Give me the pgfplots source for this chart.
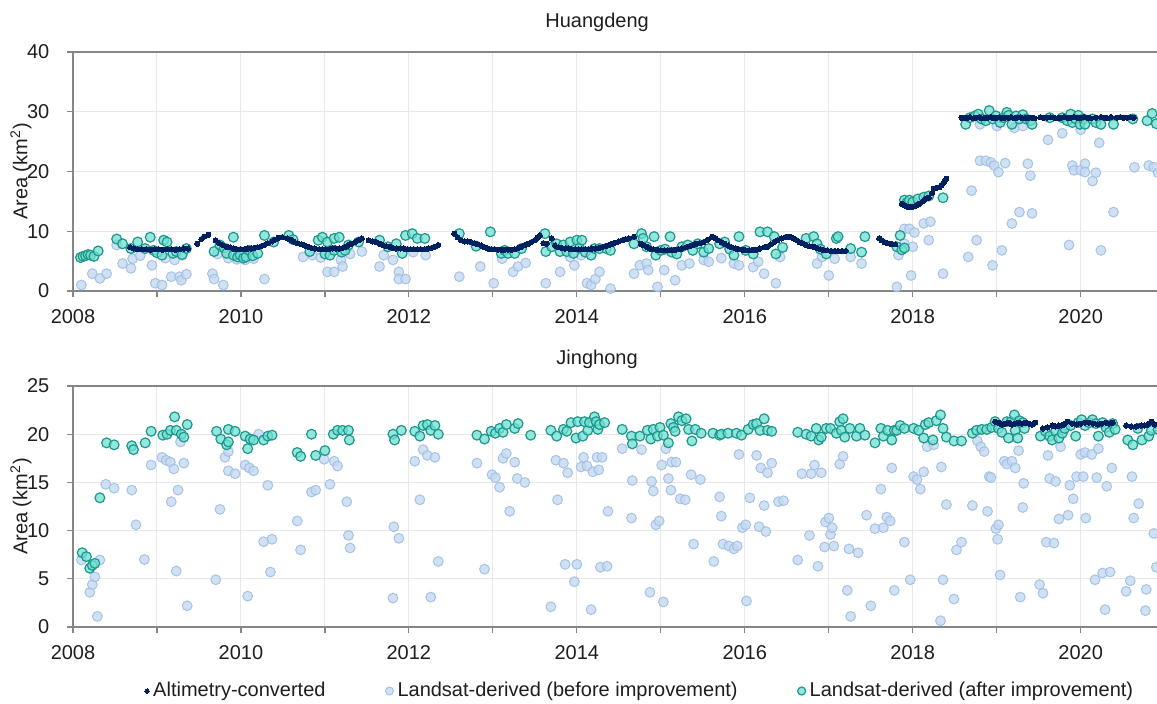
\documentclass[border=0pt]{standalone}
\usepackage{fontspec}
\setmainfont{Liberation Sans}
\usepackage{pgfplots}
\pgfplotsset{compat=1.18}
\definecolor{navy}{RGB}{0,32,96}
\definecolor{lbfill}{RGB}{197,217,241}
\definecolor{lbdraw}{RGB}{160,190,228}
\definecolor{tfill}{RGB}{110,224,210}
\definecolor{tdraw}{RGB}{30,150,140}
\definecolor{axgray}{RGB}{134,134,134}
\definecolor{gridgray}{RGB}{232,232,232}
\definecolor{txt}{RGB}{30,30,30}
\pgfplotsset{
  panel/.style={
    anchor=south west, scale only axis, width=542.5pt,
    xmin=2008, xmax=2020.92,
    xtick={2008,2009,...,2020},
    xticklabels={2008,,2010,,2012,,2014,,2016,,2018,,2020},
    axis x line*=bottom, axis y line*=left,
    axis line style={-, draw=axgray, line width=0.7pt},
    tick align=outside, major tick length=2.8pt,
    tick style={draw=axgray, line width=0.6pt},
    grid=major, major grid style={draw=gridgray, line width=0.5pt},
    /pgf/number format/assume math mode=true,
    /pgf/number format/1000 sep={},
    ticklabel style={font=\fontsize{10}{12}\selectfont, text=txt},
    yticklabel style={xshift=-5.5pt},
    xticklabel style={yshift=-3pt},
    ylabel={Area (km\textsuperscript{2})},
    ylabel style={at={(axis description cs:-0.0479,0.5)}, anchor=center, font=\fontsize{10}{12}\selectfont, text=txt},
    title style={anchor=base, font=\fontsize{10}{12}\selectfont, text=txt},
    after end axis/.code={\draw[axgray, line width=0.7pt] (rel axis cs:0,1) -- (rel axis cs:1,1);},
  },
  before/.style={only marks, mark=*, mark size=2.45pt, mark options={fill=lbfill, draw=lbdraw, line width=0.5pt, fill opacity=0.8, draw opacity=0.9}},
  after/.style={only marks, mark=*, mark size=2.45pt, mark options={fill=tfill, draw=tdraw, line width=0.6pt, fill opacity=0.75}},
  alti/.style={only marks, mark=*, mark size=1.3pt, mark options={fill=navy, draw=navy, line width=0pt}},
}
\begin{document}
\begin{tikzpicture}
\useasboundingbox (0,0) rectangle (578.5pt,351.5pt);
% ---------------- Huangdeng ----------------
\begin{axis}[panel, at={(36.5pt,206pt)}, height=119.5pt,
  ymin=0, ymax=40, ytick={0,10,20,30,40},
  title={Huangdeng}, title style={at={(axis description cs:0.483,1)}, yshift=6.5pt}]
\addplot[before] coordinates {
(2008.10,1.0)(2008.23,2.9)(2008.32,2.1)(2008.40,2.9)(2008.59,4.6)(2008.52,7.7)(2008.69,3.8)(2008.71,5.4)
(2008.80,5.9)(2008.94,4.3)(2008.98,1.3)(2009.06,1.0)(2009.10,5.5)(2009.17,2.4)(2009.21,5.2)(2009.27,2.4)
(2009.29,1.8)(2009.35,2.8)(2009.30,6.0)(2009.66,2.9)(2009.68,2.0)(2009.79,1.0)(2009.72,6.2)(2009.85,5.5)
(2009.95,5.3)(2010.05,5.2)(2010.15,5.4)(2010.28,2.0)(2010.74,5.7)(2010.85,6.0)(2010.95,5.6)(2011.03,3.2)
(2011.11,3.2)(2011.19,5.2)(2011.21,4.1)(2011.30,6.2)(2011.44,6.6)(2011.65,4.1)(2011.70,6.0)(2011.81,5.2)
(2011.88,3.2)(2011.88,2.0)(2011.96,2.0)(2012.05,6.5)(2012.20,6.0)(2012.60,2.4)(2012.85,4.1)(2013.01,1.3)
(2013.11,5.4)(2013.24,3.2)(2013.30,4.1)(2013.39,4.7)(2013.63,1.3)(2013.80,3.2)(2013.92,5.7)(2013.97,4.3)
(2014.05,6.0)(2014.12,1.3)(2014.17,1.0)(2014.22,2.0)(2014.27,3.2)(2014.40,0.4)(2014.68,2.9)(2014.75,4.3)
(2014.83,4.6)(2014.85,3.5)(2014.96,0.7)(2015.04,3.5)(2015.17,1.8)(2015.25,4.3)(2015.34,4.6)(2015.51,5.2)
(2015.57,4.9)(2015.72,5.5)(2015.87,4.6)(2015.93,4.3)(2016.10,4.0)(2016.16,4.9)(2016.23,2.9)(2016.37,1.3)
(2016.42,5.7)(2016.86,4.6)(2016.92,5.7)(2017.00,2.6)(2017.07,5.4)(2017.26,5.7)(2017.39,4.6)(2017.81,0.7)
(2017.83,6.0)(2017.90,7.9)(2017.90,10.4)(2017.96,10.4)(2018.02,9.8)(2018.00,7.4)(2017.98,2.6)(2018.13,11.3)
(2018.21,11.6)(2018.19,8.5)(2018.36,2.9)(2018.66,5.7)(2018.70,16.8)(2018.76,8.5)(2018.80,21.8)(2018.87,21.8)
(2018.93,21.5)(2018.97,21.0)(2019.02,19.9)(2019.10,21.4)(2018.95,4.3)(2019.06,6.8)(2019.18,11.3)(2019.27,13.2)
(2019.37,21.3)(2019.40,19.3)(2019.42,13.0)(2019.61,25.3)(2019.78,26.4)(2019.86,7.7)(2019.90,21.0)(2019.92,20.2)
(2020.00,20.2)(2020.05,21.3)(2020.05,19.9)(2020.14,18.4)(2020.18,19.8)(2020.22,24.8)(2020.24,6.8)(2020.39,13.2)
(2020.64,20.7)(2020.81,21.0)(2020.87,20.7)(2018.80,27.9)(2019.00,27.6)(2019.21,27.3)(2019.31,27.6)(2020.00,27.0)
(2020.92,19.8)
};
\addplot[after] coordinates {
(2008.09,5.6)(2008.12,5.8)(2008.15,5.9)(2008.18,6.1)(2008.21,6.0)(2008.25,5.8)(2008.30,6.7)(2008.52,8.7)
(2008.59,7.9)(2008.69,7.1)(2008.77,8.2)(2008.86,7.1)(2008.92,9.0)(2008.96,6.8)(2009.00,6.4)(2009.06,6.0)
(2009.08,8.5)(2009.12,8.2)(2009.19,6.3)(2009.23,6.6)(2009.30,6.1)(2009.35,7.1)(2009.68,6.6)(2009.75,7.7)
(2009.80,7.2)(2009.83,6.3)(2009.91,9.0)(2009.91,6.0)(2009.96,5.7)(2009.99,6.0)(2010.03,5.5)(2010.06,5.7)
(2010.10,6.8)(2010.14,5.9)(2010.20,6.3)(2010.28,9.3)(2010.39,8.2)(2010.57,9.3)(2010.62,8.6)(2010.82,6.6)
(2010.92,8.5)(2010.97,9.0)(2011.00,6.2)(2011.03,8.2)(2011.06,6.0)(2011.11,8.8)(2011.11,6.8)(2011.17,9.0)
(2011.20,6.5)(2011.24,6.8)(2011.28,7.7)(2011.40,8.2)(2011.65,8.5)(2011.75,7.4)(2011.85,7.9)(2011.92,6.3)
(2011.96,9.3)(2012.04,9.6)(2012.10,8.8)(2012.19,8.8)(2012.60,9.6)(2012.80,7.5)(2012.97,9.9)(2013.10,6.3)
(2013.14,6.8)(2013.18,6.3)(2013.26,6.3)(2013.34,7.1)(2013.62,9.6)(2013.63,6.6)(2013.70,7.4)(2013.76,7.9)
(2013.80,6.6)(2013.84,7.7)(2013.88,6.6)(2013.92,8.2)(2013.96,6.3)(2014.00,8.5)(2014.03,7.2)(2014.06,8.5)
(2014.10,6.5)(2014.17,6.0)(2014.21,7.1)(2014.27,7.1)(2014.35,7.1)(2014.40,6.8)(2014.68,7.9)(2014.77,9.6)
(2014.79,8.8)(2014.83,7.4)(2014.92,9.1)(2014.94,6.0)(2015.00,6.8)(2015.05,7.0)(2015.11,9.1)(2015.13,6.5)
(2015.19,6.2)(2015.25,7.4)(2015.32,7.7)(2015.38,6.8)(2015.44,7.9)(2015.51,6.5)(2015.57,7.1)(2015.70,7.9)
(2015.76,8.2)(2015.82,7.0)(2015.87,6.0)(2015.93,9.1)(2016.01,6.8)(2016.10,6.2)(2016.18,9.9)(2016.27,9.9)
(2016.35,9.1)(2016.37,6.2)(2016.45,7.3)(2016.73,8.8)(2016.82,9.1)(2016.86,7.9)(2016.90,7.0)(2016.97,6.2)
(2017.09,8.8)(2017.11,9.1)(2017.26,7.1)(2017.39,6.5)(2017.43,9.1)(2017.81,7.4)(2017.85,9.3)(2017.87,6.9)
(2017.90,7.2)(2017.90,15.2)(2017.93,14.8)(2017.96,15.2)(2018.00,14.9)(2018.06,15.4)(2018.13,15.7)(2018.19,15.9)
(2018.36,15.6)
(2018.63,27.9)(2018.68,29.0)(2018.74,29.3)(2018.78,29.6)(2018.82,28.8)(2018.87,28.5)(2018.91,30.2)(2018.95,28.8)
(2018.99,29.3)(2019.04,28.2)(2019.08,29.0)(2019.12,29.9)(2019.14,29.4)(2019.18,27.9)(2019.23,29.3)(2019.27,28.8)
(2019.31,29.5)(2019.35,28.8)(2019.40,28.5)(2019.42,27.9)(2019.63,29.0)(2019.78,29.0)(2019.84,28.5)(2019.88,29.6)
(2019.90,28.2)(2019.94,28.8)(2019.97,29.4)(2019.99,27.9)(2020.03,28.8)(2020.05,27.9)(2020.14,28.8)(2020.18,28.2)
(2020.24,27.9)(2020.39,27.9)(2020.62,28.8)(2020.79,28.5)(2020.85,29.7)(2020.90,28.0)
};
\addplot[alti] coordinates {
(2008.68,7.3)(2008.72,7.1)(2008.77,7.0)(2008.82,7.0)(2008.87,7.0)(2008.92,6.9)(2008.97,7.0)(2009.02,7.0)
(2009.07,6.9)(2009.12,7.0)(2009.17,7.0)(2009.22,6.9)(2009.27,7.0)(2009.32,7.1)(2009.37,7.1)(2009.48,7.9)
(2009.53,8.7)(2009.56,9.1)(2009.61,9.4)(2009.70,8.5)(2009.74,8.0)(2009.78,7.7)(2009.83,7.4)(2009.87,7.3)
(2009.91,7.1)(2009.95,7.0)(2010.00,7.0)(2010.04,7.0)(2010.08,7.1)(2010.12,7.1)(2010.16,7.2)(2010.20,7.3)
(2010.24,7.5)(2010.28,7.7)(2010.32,8.0)(2010.37,8.3)(2010.41,8.6)(2010.45,8.9)(2010.49,9.0)(2010.55,8.8)
(2010.59,8.6)(2010.63,8.3)(2010.67,8.0)(2010.72,7.8)(2010.76,7.6)(2010.80,7.4)(2010.84,7.2)(2010.88,7.1)
(2010.93,7.0)(2010.97,7.0)(2011.01,7.0)(2011.05,7.0)(2011.09,7.1)(2011.13,7.1)(2011.17,7.1)(2011.21,7.2)
(2011.25,7.4)(2011.28,7.7)(2011.32,7.9)(2011.36,8.2)(2011.40,8.5)(2011.44,8.8)(2011.52,8.5)(2011.57,8.3)
(2011.61,8.2)(2011.65,7.9)(2011.69,7.7)(2011.73,7.5)(2011.77,7.4)(2011.81,7.2)(2011.85,7.1)(2011.90,7.1)
(2011.94,7.1)(2011.98,7.0)(2012.02,7.0)(2012.06,7.0)(2012.10,7.0)(2012.14,7.0)(2012.19,7.0)(2012.23,7.1)
(2012.27,7.2)(2012.31,7.4)(2012.35,7.7)
(2012.54,9.6)(2012.58,9.0)(2012.62,8.5)(2012.66,8.3)(2012.70,8.3)(2012.74,8.2)(2012.78,8.0)(2012.82,7.8)
(2012.86,7.6)(2012.90,7.3)(2012.94,7.1)(2012.98,7.0)(2013.02,7.0)(2013.06,6.9)(2013.10,6.9)(2013.14,6.9)
(2013.18,6.9)(2013.22,6.9)(2013.26,7.0)(2013.30,7.2)(2013.34,7.4)(2013.38,7.7)(2013.42,7.9)(2013.46,8.2)
(2013.50,8.5)(2013.53,8.9)(2013.56,9.3)(2013.60,8.0)(2013.64,7.9)(2013.70,8.8)(2013.74,7.6)(2013.78,7.3)
(2013.82,7.2)(2013.86,7.1)(2013.90,7.1)(2013.94,7.0)(2013.98,7.0)(2014.02,7.0)(2014.06,7.0)(2014.10,7.0)
(2014.14,7.0)(2014.18,7.1)(2014.22,7.1)(2014.26,7.2)(2014.30,7.3)(2014.34,7.5)(2014.38,7.7)(2014.42,7.9)
(2014.46,8.1)(2014.50,8.3)(2014.54,8.5)(2014.58,8.7)(2014.62,8.8)(2014.68,9.1)(2014.76,7.9)(2014.79,7.7)
(2014.83,7.4)(2014.87,7.1)(2014.91,7.0)(2014.95,6.9)(2015.00,6.8)(2015.04,6.8)(2015.08,6.8)(2015.13,6.8)
(2015.17,6.9)(2015.21,7.0)(2015.25,7.1)(2015.30,7.3)(2015.34,7.5)(2015.38,7.7)(2015.42,7.9)(2015.46,8.0)
(2015.51,8.2)(2015.56,8.6)(2015.61,9.1)(2015.65,8.8)(2015.68,8.5)(2015.72,8.2)(2015.76,7.9)(2015.80,7.6)
(2015.84,7.3)(2015.89,7.1)(2015.93,7.0)(2015.97,6.9)(2016.01,6.8)(2016.06,6.8)(2016.10,6.9)(2016.14,6.9)
(2016.18,7.1)(2016.23,7.3)(2016.27,7.4)(2016.31,7.8)(2016.35,8.2)(2016.39,8.5)(2016.44,8.8)(2016.48,9.0)
(2016.52,9.1)(2016.55,9.0)(2016.58,8.8)(2016.62,8.5)(2016.65,8.2)(2016.69,8.0)(2016.73,7.7)(2016.77,7.5)
(2016.82,7.4)(2016.86,7.2)(2016.90,7.0)(2016.94,6.8)(2016.98,6.8)(2017.03,6.7)(2017.07,6.7)(2017.11,6.7)
(2017.16,6.7)(2017.20,6.7)
(2017.60,8.8)(2017.63,8.5)(2017.66,8.2)(2017.70,8.0)(2017.73,7.9)(2017.76,7.8)(2017.79,7.8)
(2017.87,14.6)(2017.90,14.3)(2017.93,14.1)(2017.96,14.1)(2018.00,14.1)(2018.04,14.3)(2018.08,14.6)(2018.12,15.0)
(2018.15,15.4)(2018.19,15.6)(2018.23,16.4)(2018.25,17.1)(2018.29,17.3)(2018.32,17.4)(2018.34,17.7)(2018.36,18.0)
(2018.38,18.4)(2018.40,18.8)
(2018.58,29.0)(2018.61,28.9)(2018.65,29.0)(2018.68,29.1)(2018.72,28.9)(2018.75,29.0)(2018.79,29.1)(2018.82,28.9)
(2018.86,29.0)(2018.89,29.0)(2018.93,29.1)(2018.96,28.9)(2019.00,29.0)(2019.03,29.1)(2019.07,28.9)(2019.10,29.0)
(2019.14,29.0)(2019.17,29.1)(2019.21,28.9)(2019.24,29.0)(2019.28,29.1)(2019.31,28.9)(2019.35,29.0)(2019.38,29.0)
(2019.42,29.0)(2019.45,28.9)
(2019.52,29.1)(2019.56,29.0)(2019.60,29.0)(2019.64,29.1)(2019.68,29.0)(2019.72,28.9)(2019.76,29.0)(2019.80,29.1)
(2019.84,29.0)(2019.88,29.0)(2019.92,29.1)(2019.96,29.0)(2020.00,29.0)(2020.04,29.1)(2020.08,29.0)(2020.12,28.9)
(2020.18,29.0)(2020.24,29.1)(2020.28,29.0)(2020.32,28.9)(2020.36,29.1)(2020.43,29.0)(2020.47,29.1)(2020.51,29.0)
(2020.55,29.0)(2020.59,29.1)(2020.63,29.0)
};
\end{axis}
% ---------------- Jinghong ----------------
\begin{axis}[panel, at={(36.5pt,38pt)}, height=120.5pt,
  ymin=0, ymax=25, ytick={0,5,10,15,20,25},
  title={Jinghong}, title style={at={(axis description cs:0.483,1)}, yshift=5pt},
  legend columns=3,
  legend style={at={(0.5235,-0.2656)}, anchor=center, draw=none, fill=none,
    font=\fontsize{10}{12}\selectfont, text=txt,
    /tikz/every even column/.append style={column sep=28pt}},
  legend cell align=left]
\addlegendimage{alti, mark size=1.1pt}
\addlegendentry{Altimetry-converted}
\addlegendimage{before, mark size=2pt}
\addlegendentry{Landsat-derived (before improvement)}
\addlegendimage{after, mark size=2pt}
\addlegendentry{Landsat-derived (after improvement)}
\addplot[before, forget plot] coordinates {
(2008.10,6.95)(2008.20,3.6)(2008.23,4.4)(2008.26,5.2)(2008.29,1.1)(2008.32,6.95)(2008.39,14.8)(2008.49,14.4)
(2008.70,14.2)(2008.75,10.6)(2008.85,7.0)(2008.93,16.8)(2009.06,17.6)(2009.11,17.3)(2009.16,17.1)(2009.17,13.0)
(2009.20,16.4)(2009.23,5.8)(2009.25,14.2)(2009.32,17.0)(2009.36,2.2)(2009.28,19.2)
(2009.70,4.9)(2009.75,12.2)(2009.81,17.6)(2009.85,18.2)(2009.85,16.2)(2009.93,15.9)(2010.05,16.8)(2010.08,3.2)
(2010.10,16.5)(2010.15,16.2)(2010.21,20.0)(2010.27,8.85)(2010.32,14.7)(2010.35,5.7)(2010.37,9.1)(2010.67,11.0)
(2010.71,8.0)(2010.84,14.0)(2010.89,14.2)(2010.99,17.4)(2011.06,14.8)(2011.11,17.2)(2011.15,16.7)(2011.26,13.0)
(2011.28,9.5)(2011.30,8.2)(2011.82,10.4)(2011.81,3.0)(2011.88,9.2)
(2012.07,17.2)(2012.13,13.2)(2012.17,18.4)(2012.22,17.8)(2012.26,3.1)(2012.31,17.6)(2012.35,6.8)(2012.81,17.0)
(2012.90,6.0)(2012.99,15.8)(2013.03,15.5)(2013.08,14.5)(2013.12,17.5)(2013.16,18.0)(2013.20,12.0)(2013.26,17.1)
(2013.29,15.4)(2013.38,15.0)(2013.69,2.1)(2013.75,17.3)(2013.77,13.2)(2013.84,17.0)(2013.86,6.5)(2013.89,16.0)
(2013.97,4.7)(2014.00,6.5)(2014.05,16.6)(2014.08,17.6)(2014.12,16.7)(2014.17,1.8)(2014.19,16.1)(2014.24,17.6)
(2014.26,16.3)(2014.28,6.2)(2014.30,17.6)(2014.36,6.3)(2014.37,12.0)(2014.54,18.5)(2014.66,15.2)(2014.65,11.3)
(2014.77,18.4)(2014.87,3.6)(2014.89,15.1)(2014.91,14.1)(2014.94,10.6)(2014.98,11.0)(2015.01,16.8)(2015.03,2.6)
(2015.06,18.5)(2015.09,15.4)(2015.12,14.2)(2015.13,17.1)(2015.18,17.1)(2015.23,13.3)(2015.29,13.2)(2015.36,15.8)
(2015.39,8.6)(2015.47,15.3)(2015.63,6.8)(2015.70,13.5)(2015.72,11.5)(2015.74,8.6)(2015.81,8.4)(2015.87,8.1)
(2015.91,8.4)(2015.93,17.9)(2015.97,10.3)(2016.01,10.6)(2016.02,2.7)(2016.06,13.4)(2016.14,17.8)(2016.17,10.4)
(2016.19,16.5)(2016.23,12.6)(2016.25,9.9)(2016.27,16.0)(2016.32,17.0)(2016.40,13.0)(2016.46,13.1)
(2016.63,6.95)(2016.68,15.9)(2016.77,9.5)(2016.79,15.9)(2016.83,16.8)(2016.87,6.3)(2016.91,16.0)(2016.95,8.3)
(2016.96,10.9)(2017.00,11.3)(2017.02,9.6)(2017.04,10.3)(2017.06,8.4)(2017.13,16.9)(2017.17,17.7)(2017.22,3.8)
(2017.24,8.1)(2017.26,1.1)(2017.35,7.7)(2017.45,11.6)(2017.50,2.2)(2017.55,10.2)(2017.62,14.3)(2017.65,10.3)
(2017.69,11.4)(2017.73,11.0)(2017.75,16.5)(2017.78,3.8)(2017.90,8.8)(2017.97,4.9)(2018.01,15.6)(2018.05,15.3)
(2018.09,14.3)(2018.13,16.1)(2018.17,18.7)(2018.25,18.9)(2018.34,16.6)(2018.33,0.65)(2018.36,4.9)(2018.40,12.7)
(2018.49,2.9)(2018.52,8.0)(2018.58,8.8)(2018.71,12.6)(2018.77,19.3)(2018.81,18.7)(2018.85,18.2)(2018.89,12.0)
(2018.91,15.6)(2018.93,15.5)(2018.99,10.2)(2019.02,10.6)(2019.01,9.1)(2019.04,5.4)(2019.09,17.2)(2019.12,16.9)
(2019.18,17.2)(2019.22,16.5)(2019.26,18.3)(2019.28,3.1)(2019.31,12.4)(2019.32,14.9)(2019.51,4.4)(2019.55,3.5)
(2019.59,8.8)(2019.61,17.8)(2019.63,15.4)(2019.68,8.7)(2019.70,15.1)(2019.74,11.2)(2019.76,18.7)(2019.85,11.6)
(2019.87,14.7)(2019.91,13.3)(2019.95,15.6)(2020.00,17.9)(2020.03,15.6)(2020.05,18.1)(2020.06,11.3)(2020.13,17.9)
(2020.17,4.9)(2020.19,15.5)(2020.21,18.5)(2020.26,5.6)(2020.29,1.8)(2020.31,14.6)(2020.35,5.7)(2020.37,16.5)
(2020.54,3.7)(2020.59,4.8)(2020.61,15.6)(2020.63,11.3)(2020.69,12.8)(2020.77,1.7)(2020.78,3.9)(2020.87,9.7)
(2020.90,6.2)
};
\addplot[after, forget plot] coordinates {
(2008.11,7.7)(2008.16,7.3)(2008.20,6.1)(2008.23,6.4)(2008.26,6.6)(2008.32,13.4)(2008.40,19.1)(2008.49,18.9)
(2008.70,18.8)(2008.72,18.4)(2008.86,19.1)(2008.93,20.3)(2009.07,19.9)(2009.12,20.0)(2009.16,20.4)(2009.21,21.8)
(2009.23,20.4)(2009.29,20.0)(2009.32,19.7)(2009.36,21.0)(2009.71,20.3)(2009.76,19.5)(2009.83,18.9)(2009.85,20.5)
(2009.85,19.2)(2009.93,20.3)(2010.05,19.8)(2010.08,18.5)(2010.11,19.5)(2010.15,19.4)(2010.27,19.4)(2010.32,19.8)
(2010.37,19.9)(2010.67,18.1)(2010.71,17.7)(2010.84,20.0)(2010.89,17.8)(2011.00,18.3)(2011.10,20.0)(2011.15,20.4)
(2011.21,20.4)(2011.28,20.4)(2011.29,19.4)(2011.81,20.0)(2011.83,19.4)(2011.91,20.4)
(2012.07,20.3)(2012.13,19.8)(2012.17,20.9)(2012.22,21.0)(2012.26,20.4)(2012.31,20.9)(2012.35,20.0)(2012.81,19.9)
(2012.90,19.5)(2012.98,20.3)(2013.03,20.1)(2013.08,20.6)(2013.12,20.2)(2013.16,21.0)(2013.26,20.6)(2013.30,21.1)
(2013.45,19.9)(2013.69,20.4)(2013.76,19.8)(2013.84,20.5)(2013.88,20.3)(2013.93,21.2)(2013.99,19.6)(2014.01,21.3)
(2014.07,19.8)(2014.09,21.3)(2014.13,20.4)(2014.15,21.2)(2014.21,21.8)(2014.23,21.3)(2014.25,20.5)(2014.27,21.0)
(2014.33,21.2)(2014.54,20.5)(2014.65,19.8)(2014.66,19.0)(2014.75,19.8)(2014.84,20.4)(2014.88,19.5)(2014.91,20.5)
(2014.96,19.8)(2014.99,20.7)(2015.03,19.9)(2015.09,19.1)(2015.12,21.1)(2015.15,20.7)(2015.17,20.3)(2015.21,21.8)
(2015.25,21.4)(2015.30,21.6)(2015.33,20.5)(2015.37,19.3)(2015.41,20.5)(2015.48,20.1)(2015.62,20.1)(2015.70,19.9)
(2015.72,20.0)(2015.80,20.1)(2015.90,20.1)(2015.96,19.9)(2016.04,20.5)(2016.10,21.0)(2016.14,21.1)(2016.18,20.4)
(2016.23,21.6)(2016.27,20.4)(2016.32,20.3)
(2016.63,20.2)(2016.73,20.0)(2016.79,19.8)(2016.85,20.6)(2016.88,19.4)(2016.91,19.7)(2016.97,20.6)(2017.02,20.6)
(2017.09,20.1)(2017.13,21.3)(2017.15,20.4)(2017.17,21.6)(2017.19,19.7)(2017.25,20.6)(2017.33,19.8)(2017.37,20.6)
(2017.43,19.9)(2017.55,19.1)(2017.62,20.6)(2017.65,19.8)(2017.70,20.4)(2017.75,19.4)(2017.78,20.4)(2017.81,20.4)
(2017.85,20.9)(2017.90,20.6)(2018.01,20.6)(2018.07,20.4)(2018.13,19.6)(2018.15,21.0)(2018.19,21.2)(2018.24,19.4)
(2018.28,21.4)(2018.33,22.0)(2018.36,20.6)(2018.40,19.7)(2018.49,19.3)(2018.58,19.3)
(2018.71,20.1)(2018.76,20.4)(2018.82,20.5)(2018.88,20.5)(2018.94,20.7)(2018.98,21.3)(2019.02,20.6)(2019.06,20.2)
(2019.12,21.3)(2019.14,19.6)(2019.17,21.3)(2019.21,22.0)(2019.22,20.4)(2019.25,19.6)(2019.27,21.4)(2019.31,21.2)
(2019.33,20.6)(2019.52,19.8)(2019.58,20.3)(2019.63,19.8)(2019.66,19.4)(2019.70,20.3)(2019.74,19.6)(2019.78,20.1)
(2019.81,20.6)(2019.88,20.9)(2019.94,19.8)(2019.97,21.2)(2020.01,21.5)(2020.05,20.9)(2020.10,21.2)(2020.14,21.5)
(2020.18,21.1)(2020.21,19.8)(2020.26,21.2)(2020.30,20.7)(2020.34,20.2)(2020.38,21.1)(2020.41,20.5)
(2020.56,19.4)(2020.62,18.9)(2020.68,20.6)(2020.73,19.4)(2020.81,19.8)(2020.84,20.4)(2020.92,20.5)
};
\addplot[alti, forget plot] coordinates {
(2018.98,21.3)(2019.02,21.2)(2019.06,21.0)(2019.10,21.1)(2019.14,21.2)(2019.18,21.0)(2019.22,21.1)(2019.26,21.2)
(2019.30,21.1)(2019.34,21.2)(2019.38,21.1)(2019.42,21.0)(2019.46,21.2)(2019.55,20.6)(2019.60,20.7)(2019.66,20.9)
(2019.70,20.8)(2019.74,20.9)(2019.77,20.9)(2019.80,21.0)(2019.84,21.3)(2019.90,21.1)(2019.95,21.0)(2020.00,21.1)
(2020.05,21.2)(2020.10,21.2)(2020.15,21.1)(2020.20,21.0)(2020.25,21.1)(2020.30,21.2)(2020.34,21.1)(2020.38,21.2)
(2020.54,20.9)(2020.60,20.8)(2020.66,20.8)(2020.72,20.9)(2020.76,20.9)(2020.80,21.0)(2020.84,21.3)(2020.88,21.0)
};
\end{axis}
\end{tikzpicture}
\end{document}
